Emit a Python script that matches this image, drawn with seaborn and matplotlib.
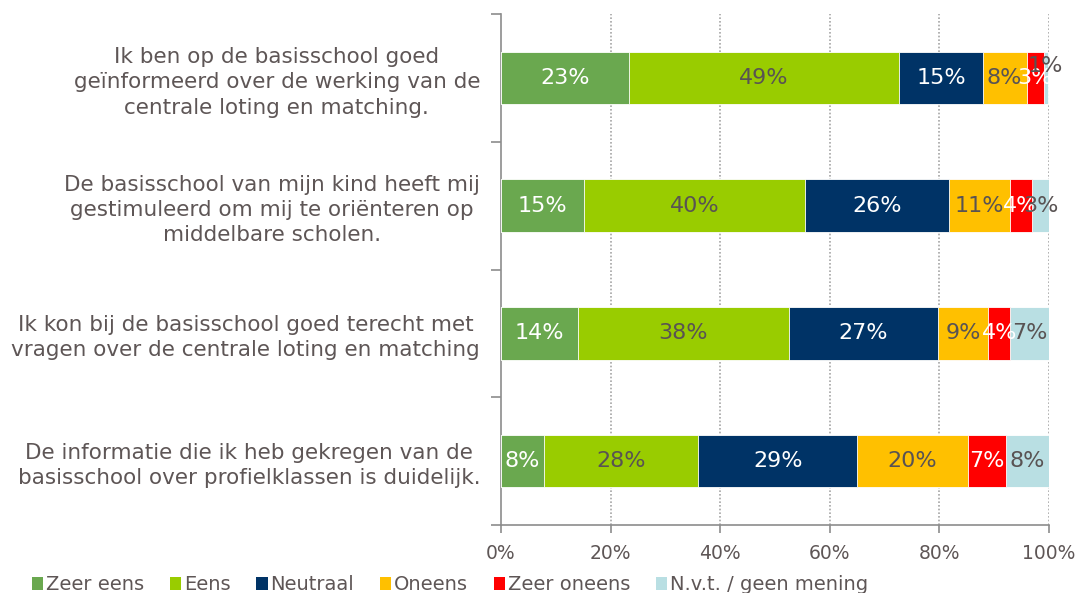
import numpy as np
import pandas as pd
import matplotlib
matplotlib.use("Agg")
import matplotlib.pyplot as plt
from matplotlib.patches import Patch
from matplotlib.ticker import FixedLocator
import seaborn as sns

categories = [
    "Ik ben op de basisschool goed\ngeïnformeerd over de werking van de\ncentrale loting en matching.",
    "De basisschool van mijn kind heeft mij\ngestimuleerd om mij te oriënteren op\nmiddelbare scholen.",
    "Ik kon bij de basisschool goed terecht met\nvragen over de centrale loting en matching",
    "De informatie die ik heb gekregen van de\nbasisschool over profielklassen is duidelijk.",
]
series = ["Zeer eens", "Eens", "Neutraal", "Oneens", "Zeer oneens", "N.v.t. / geen mening"]
zeer_eens = [23.3, 15.1, 14.1, 7.9]
eens = [49.4, 40.4, 38.4, 28.1]
neutraal = [15.2, 26.3, 27.3, 29.0]
oneens = [8.0, 11.1, 9.1, 20.2]
zeer_oneens = [3.1, 4.0, 4.0, 7.0]
nvt = [0.8, 3.1, 7.1, 7.8]
xtick_values = [0, 20, 40, 60, 80, 100]
xtick_labels = ["0%", "20%", "40%", "60%", "80%", "100%"]

colors = ["#6AA84F", "#99CC00", "#003366", "#FFC000", "#FF0000", "#B9DFE3"]
label_colors = ["white", "#595353", "white", "#595353", "white", "#595353"]
text_gray = "#5E5656"
axis_gray = "#8C8C8C"

values = np.array([zeer_eens, eens, neutraal, oneens, zeer_oneens, nvt])
cum = np.cumsum(values, axis=0)

sns.set_theme(style="white")
plt.rcParams["font.family"] = ["DejaVu Sans"]

fig = plt.figure(figsize=(10.82, 5.93), dpi=100)
ax = fig.add_axes([501 / 1082, 1 - 525 / 593, (1049 - 501) / 1082, (525 - 14) / 593])

for i in range(len(series) - 1, -1, -1):
    df = pd.DataFrame({"cat": categories, "val": cum[i]})
    sns.barplot(data=df, x="val", y="cat", order=categories, orient="h",
                color=colors[i], width=0.41, edgecolor="white", linewidth=0.6,
                saturation=1, ax=ax, zorder=3)

for j in range(len(categories)):
    for i in range(len(series)):
        left = cum[i][j] - values[i][j]
        center = left + values[i][j] / 2
        ypos = j - 0.09 if values[i][j] < 2 else j
        ax.text(center, ypos, f"{round(values[i][j])}%", ha="center", va="center",
                fontsize=16, color=label_colors[i], zorder=5)

ax.set_xlim(0, 100)
ax.set_ylim(len(categories) - 0.5, -0.5)
ax.set_xticks(xtick_values)
ax.set_xticklabels(xtick_labels, fontsize=13.5, color=text_gray)
ax.set_xlabel("")
ax.set_ylabel("")
ax.yaxis.set_minor_locator(FixedLocator(np.arange(-0.5, len(categories), 1.0)))
ax.tick_params(axis="y", which="major", length=0, pad=15, labelsize=15.5, labelcolor=text_gray)
ax.tick_params(axis="y", which="minor", length=7, width=1.2, color=axis_gray, left=True)
ax.tick_params(axis="x", which="major", length=6, width=1.2, color=axis_gray, bottom=True, pad=8)
for lab in ax.get_yticklabels():
    lab.set_multialignment("center")
    lab.set_linespacing(1.32)

for x in xtick_values[1:]:
    ax.axvline(x, color="#A6A6A6", linestyle=(0, (1, 1.2)), linewidth=1.2, zorder=1)

for s in ["top", "right"]:
    ax.spines[s].set_visible(False)
for s in ["left", "bottom"]:
    ax.spines[s].set_color(axis_gray)
    ax.spines[s].set_linewidth(1.2)
ax.grid(False)

handles = [Patch(facecolor=c, edgecolor="none") for c in colors]
fig.legend(handles, series, loc="lower left", bbox_to_anchor=(0.013, -0.032), ncol=6,
           frameon=False, fontsize=14, handlelength=0.6, handleheight=0.7,
           handletextpad=0.15, columnspacing=1.3, labelcolor=text_gray)

fig.savefig("out.png", dpi=100)
